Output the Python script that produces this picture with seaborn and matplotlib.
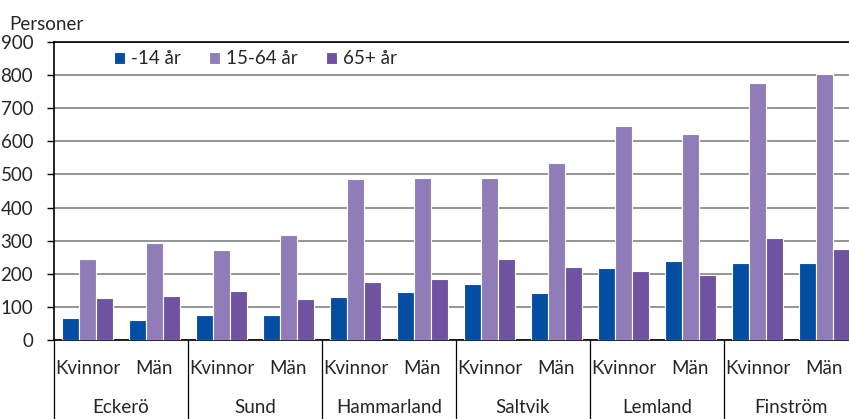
import pandas as pd
import matplotlib.pyplot as plt
import seaborn as sns

# data
kommuner = ["Eckerö", "Sund", "Hammarland", "Saltvik", "Lemland", "Finström"]
kon = ["Kvinnor", "Män"]
aldersgrupper = ["-14 år", "15-64 år", "65+ år"]

barn = [67, 61, 77, 75, 130, 144, 169, 141, 217, 238, 234, 233]
vuxna = [245, 294, 272, 316, 486, 490, 490, 536, 646, 622, 775, 803]
aldre = [128, 133, 149, 125, 176, 185, 244, 221, 207, 195, 307, 275]

farger = ["#034EA2", "#8F7CB9", "#6F52A0"]

sns.set_style("white")
plt.rcParams['font.family'] = ['Lato', 'DejaVu Sans']
fs = 13.5

grupper = [k + " " + s for k in kommuner for s in kon]
rows = []
for serie, varden in zip(aldersgrupper, [barn, vuxna, aldre]):
    for g, v in zip(grupper, varden):
        rows.append({"grupp": g, "alder": serie, "personer": v})
df = pd.DataFrame(rows)

W, H = 849, 419
fig = plt.figure(figsize=(W / 100, H / 100), dpi=100)
ax = fig.add_axes([54 / W, (H - 340) / H, 804 / W, 298 / H])

sns.barplot(data=df, x="grupp", y="personer", hue="alder", order=grupper,
            hue_order=aldersgrupper, palette=farger, width=0.76,
            edgecolor="white", linewidth=0.8, saturation=1, ax=ax, zorder=3)

ax.set_xlim(-0.5, len(grupper) - 0.5)
ax.set_ylim(0, 900)
ax.set_yticks(range(0, 901, 100))
ax.yaxis.grid(True, color="#8c8c8c", linewidth=1.3, zorder=0)
ax.set_axisbelow(True)
ax.set_xlabel("")
ax.set_ylabel("")
for side in ["top", "left", "bottom"]:
    ax.spines[side].set_color("black")
    ax.spines[side].set_linewidth(1.2)
ax.spines["right"].set_visible(False)
ax.tick_params(axis="y", left=True, length=5, width=1, color="black",
               labelsize=fs, pad=10)
ax.tick_params(axis="x", bottom=False, labelsize=fs, pad=11)
ax.set_xticks(range(len(grupper)))
ax.set_xticklabels([s for k in kommuner for s in kon])

# municipality labels and separators under the axis
trans = ax.get_xaxis_transform()
for i, k in enumerate(kommuner):
    ax.text(2 * i + 0.5, -0.228, k, transform=trans, ha="center", va="center",
            fontsize=fs)
    ax.plot([2 * i - 0.5, 2 * i - 0.5], [0, -0.27], transform=trans,
            color="black", linewidth=0.9, clip_on=False)

ax.legend(loc="center left", bbox_to_anchor=(0.0746, 0.943), ncol=3,
          frameon=False, fontsize=fs, borderpad=0, borderaxespad=0,
          handlelength=0.6, handleheight=0.6, handletextpad=0.32,
          columnspacing=1.5)

fig.text(9 / W, 1 - 24 / H, "Personer", ha="left", va="center", fontsize=fs)

fig.savefig("out.png", dpi=100)
